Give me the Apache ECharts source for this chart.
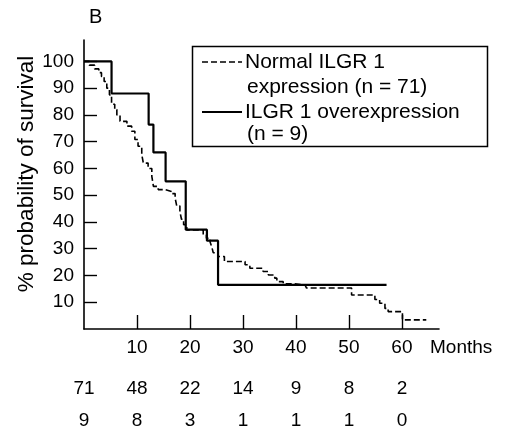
<!DOCTYPE html>
<html>
<head>
<meta charset="utf-8">
<script src="https://cdn.jsdelivr.net/npm/echarts@6/dist/echarts.min.js"></script>
<style>
  html, body { margin: 0; padding: 0; background: #fff; }
  #chart { width: 505px; height: 431px; }
</style>
</head>
<body>
<div id="chart"></div>
<script>
// Normal ILGR 1 expression (n = 71): month of each step, survival after it
var normalMonths = [0, 1.0, 2.0, 2.8, 3.3, 3.8, 4.3, 4.8, 5.2, 5.8, 6.2, 6.8, 8.1, 9.0, 9.6, 10.2, 10.9, 11.2,
    12.1, 12.8, 13.1, 14.0, 15.3, 16.5, 17.2, 17.5, 18.1, 18.4, 18.8, 19.4, 22.5, 23.1, 23.8, 24.1, 24.4,
    25.3, 26.5, 30.4, 31.3, 33.8, 34.8, 36.0, 36.4, 37.6, 39.5, 41.7, 42.0, 50.5, 54.9, 55.8, 56.8, 57.4,
    60.1, 64.6];
var normalSurv = [100, 98.6, 97.2, 95.8, 94.4, 92.5, 90, 87.5, 84, 82, 80, 77.6, 75.8, 73.9, 70.8, 68.3, 65.2, 62,
    60, 57, 53.3, 52.1, 51.4, 50.6, 48.9, 46, 43.8, 41, 39, 37, 35.2, 33.9, 32.5, 30.8, 28.5,
    27.1, 25.2, 24, 22.7, 21.5, 20.2, 19, 17.7, 16.9, 16.5, 15.9, 15.3, 12.7, 11, 9.6, 7.7, 6.5,
    3.4, 3.4];

// ILGR 1 overexpression (n = 9)
var overMonths = [0, 5.2, 12.2, 13.1, 15.4, 19.2, 23.2, 25.3, 57.1];
var overSurv = [100, 88, 76.4, 66, 55.2, 37.1, 33, 16.5, 16.5];

// numbers at risk under the axis
var riskMonths = [0, 10, 20, 30, 40, 50, 60];
var riskNormal = [71, 48, 22, 14, 9, 8, 2];
var riskOver = [9, 8, 3, 1, 1, 1, 0];

var xTicks = [10, 20, 30, 40, 50, 60];
var yTicks = [10, 20, 30, 40, 50, 60, 70, 80, 90, 100];

var legendLines = ['Normal ILGR 1', 'expression (n = 71)', 'ILGR 1 overexpression', '(n = 9)'];

function zip(xs, ys) {
    var out = [];
    for (var i = 0; i < xs.length; i++) {
        out.push([xs[i], ys[i]]);
    }
    return out;
}

var font = 'Liberation Sans, Arial, sans-serif';
var ink = '#000';

function riskAxis(offset, counts) {
    return {
        type: 'value',
        position: 'bottom',
        min: 0,
        max: 67,
        offset: offset,
        axisLine: {show: false},
        axisTick: {show: false},
        splitLine: {show: false},
        axisLabel: {
            customValues: riskMonths,
            margin: 8,
            color: ink,
            fontFamily: font,
            fontSize: 19,
            formatter: function (v) {
                return String(counts[riskMonths.indexOf(v)]);
            }
        }
    };
}

var chart = echarts.init(document.getElementById('chart'));
var option = {
    animation: false,
    backgroundColor: '#fff',
    grid: {left: 84, right: 66, top: 40, bottom: 102, containLabel: false},
    xAxis: [{
        type: 'value',
        min: 0,
        max: 67,
        name: 'Months',
        nameLocation: 'end',
        nameGap: -9,
        nameTextStyle: {
            color: ink, fontFamily: font, fontSize: 19,
            align: 'left', verticalAlign: 'top', padding: [9, 0, 0, 0]
        },
        axisLine: {lineStyle: {color: ink, width: 1.6}},
        axisTick: {inside: true, length: 14, customValues: xTicks, lineStyle: {color: ink, width: 1.4}},
        axisLabel: {customValues: xTicks, margin: 9, color: ink, fontFamily: font, fontSize: 19},
        splitLine: {show: false}
    },
        riskAxis(42, riskNormal),
        riskAxis(74, riskOver)
    ],
    yAxis: {
        type: 'value',
        min: 0,
        max: 108,
        axisLine: {lineStyle: {color: ink, width: 1.6}},
        axisTick: {inside: true, length: 13, customValues: yTicks, lineStyle: {color: ink, width: 1.4}},
        axisLabel: {customValues: yTicks, margin: 10, color: ink, fontFamily: font, fontSize: 19},
        splitLine: {show: false}
    },
    series: [{
        name: 'Normal ILGR 1 expression (n = 71)',
        type: 'line',
        step: 'end',
        symbol: 'none',
        lineStyle: {color: ink, width: 1.6, type: [6, 3]},
        data: zip(normalMonths, normalSurv)
    }, {
        name: 'ILGR 1 overexpression (n = 9)',
        type: 'line',
        step: 'end',
        symbol: 'none',
        lineStyle: {color: ink, width: 2.2},
        data: zip(overMonths, overSurv)
    }],
    graphic: [{
        type: 'text',
        left: 89, top: 7,
        style: {text: 'B', fill: ink, font: '20px ' + font}
    }, {
        type: 'text',
        x: 27, y: 174, rotation: Math.PI / 2,
        style: {text: '% probability of survival', fill: ink, font: '22.5px ' + font,
            align: 'center', verticalAlign: 'middle'}
    }, {
        type: 'rect',
        shape: {x: 192.5, y: 46.5, width: 295, height: 100},
        style: {fill: '#fff', stroke: ink, lineWidth: 1.5},
        z: 10
    }, {
        type: 'line',
        shape: {x1: 202, y1: 62, x2: 242, y2: 62},
        style: {stroke: ink, lineWidth: 1.6, lineDash: [6, 3]},
        z: 11
    }, {
        type: 'line',
        shape: {x1: 202, y1: 112, x2: 242, y2: 112},
        style: {stroke: ink, lineWidth: 2.2},
        z: 11
    }, {
        type: 'text', x: 245, y: 62, z: 11,
        style: {text: legendLines[0], fill: ink, font: '21px ' + font, verticalAlign: 'middle'}
    }, {
        type: 'text', x: 247, y: 87, z: 11,
        style: {text: legendLines[1], fill: ink, font: '21px ' + font, verticalAlign: 'middle'}
    }, {
        type: 'text', x: 245, y: 112, z: 11,
        style: {text: legendLines[2], fill: ink, font: '21px ' + font, verticalAlign: 'middle'}
    }, {
        type: 'text', x: 247, y: 134, z: 11,
        style: {text: legendLines[3], fill: ink, font: '21px ' + font, verticalAlign: 'middle'}
    }]
};
chart.setOption(option);
</script>
</body>
</html>
